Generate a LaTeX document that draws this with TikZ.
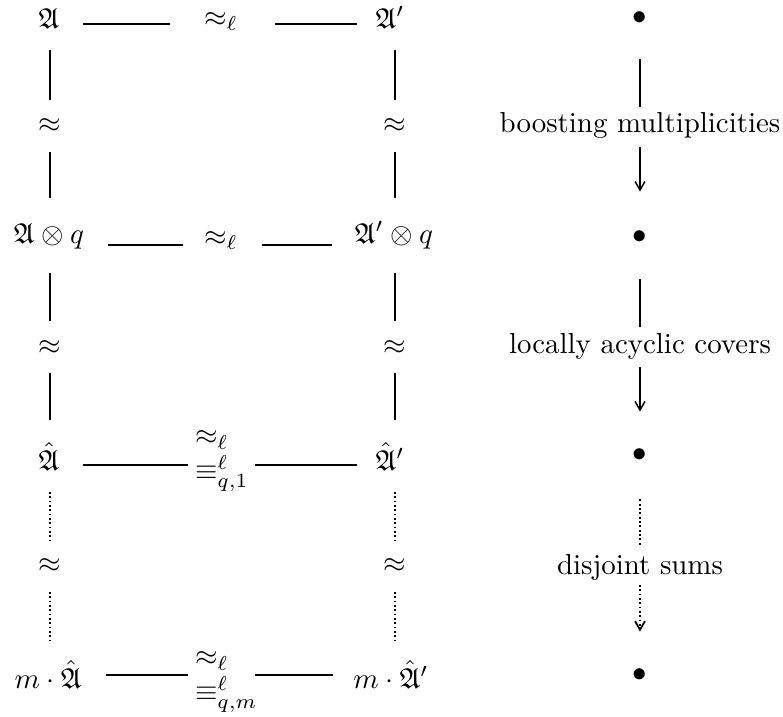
\documentclass[tikz,border=0pt]{standalone}
\usepackage{amsmath,amssymb}
\usetikzlibrary{arrows.meta}
\newcommand\pxu{0.346pt}
\begin{document}
\begin{tikzpicture}[x=0.346pt,y=-0.346pt,
  every node/.style={inner sep=0pt, outer sep=0pt, anchor=base},
  conn/.style={line width=0.5pt},
  dotconn/.style={line width=0.6pt, dash pattern=on 0.6pt off 0.9pt},
  tip/.style={-{Straight Barb[length=3pt,width=3.4pt]}},
  dotnode/.style={anchor=center},
]
\useasboundingbox (0,0) rectangle (783,716);
% row levels for horizontal connectors
\coordinate (h1) at (0,24);
\coordinate (h2) at (0,245);
\coordinate (h3) at (0,465);
\coordinate (h4) at (0,675);
% row 1
\node (A)  at (49,28)  {$\mathfrak{A}$};
\node (L1) at (221,26) {$\approx_\ell$};
\node (Ap) at (390,28) {$\mathfrak{A}'$};
\node[dotnode] (B1) at (640,18) {$\bullet$};
% row 2
\node (Aq)  at (49,243)  {$\mathfrak{A}\otimes q$};
\node (L2)  at (221,245) {$\approx_\ell$};
\node (Apq) at (394,243) {$\mathfrak{A}'\otimes q$};
\node[dotnode] (B2) at (640,237) {$\bullet$};
% row 3
\node (Ah)  at (49,470)  {$\hat{\mathfrak{A}}$};
\node[anchor=base west] (L3) at (195,463) {$\begin{array}{@{}l@{}}\approx_\ell\\ \equiv^\ell_{q,1}\end{array}$};
\node (Aph) at (390,470) {$\hat{\mathfrak{A}}'$};
\node[dotnode] (B3) at (640,455) {$\bullet$};
% row 4
\node (mAh)  at (48,688)  {$m\cdot\hat{\mathfrak{A}}$};
\node[anchor=base west] (L4) at (195,684) {$\begin{array}{@{}l@{}}\approx_\ell\\ \equiv^\ell_{q,m}\end{array}$};
\node (mAph) at (391,688) {$m\cdot\hat{\mathfrak{A}}'$};
\node[dotnode] (B4) at (640,675) {$\bullet$};
% vertical labels
\node (V1)  at (50,132)  {$\approx$};
\node (V1r) at (395,132) {$\approx$};
\node (V2)  at (50,354)  {$\approx$};
\node (V2r) at (395,354) {$\approx$};
\node (V3)  at (50,572)  {$\approx$};
\node (V3r) at (395,572) {$\approx$};
\node (T1) at (640,132) {boosting multiplicities};
\node (T2) at (640,353) {locally acyclic covers};
\node (T3) at (640,574) {disjoint sums};
% horizontal connectors
\draw[conn,shorten <=34*\pxu,shorten >=51*\pxu] (A.base |- h1) -- (L1.base |- h1);
\draw[conn,shorten <=54*\pxu,shorten >=33*\pxu] (L1.base |- h1) -- (Ap.base |- h1);
\draw[conn,shorten <=59*\pxu,shorten >=38*\pxu] (Aq.base |- h2) -- (L2.base |- h2);
\draw[conn,shorten <=41*\pxu,shorten >=62*\pxu] (L2.base |- h2) -- (Apq.base |- h2);
\draw[conn,shorten <=34*\pxu,shorten >=7*\pxu] (Ah.base |- h3) -- (L3.west |- h3);
\draw[conn,shorten <=60*\pxu,shorten >=33*\pxu] (L3.west |- h3) -- (Aph.base |- h3);
\draw[conn,shorten <=58*\pxu,shorten >=7*\pxu] (mAh.base |- h4) -- (L4.west |- h4);
\draw[conn,shorten <=60*\pxu,shorten >=58*\pxu] (L4.west |- h4) -- (mAph.base |- h4);
% left column
\draw[conn,shorten <=22*\pxu,shorten >=32*\pxu] (V1.base |- A.base) -- (V1.base);
\draw[conn,shorten <=20*\pxu,shorten >=45*\pxu] (V1.base) -- (V1.base |- Aq.base);
\draw[conn,shorten <=30*\pxu,shorten >=33*\pxu] (V2.base |- Aq.base) -- (V2.base);
\draw[conn,shorten <=19*\pxu,shorten >=50*\pxu] (V2.base) -- (V2.base |- Ah.base);
\draw[dotconn,shorten <=22*\pxu,shorten >=32*\pxu] (V3.base |- Ah.base) -- (V3.base);
\draw[dotconn,shorten <=20*\pxu,shorten >=48*\pxu] (V3.base) -- (V3.base |- mAh.base);
% right column
\draw[conn,shorten <=22*\pxu,shorten >=32*\pxu] (V1r.base |- Ap.base) -- (V1r.base);
\draw[conn,shorten <=20*\pxu,shorten >=45*\pxu] (V1r.base) -- (V1r.base |- Apq.base);
\draw[conn,shorten <=30*\pxu,shorten >=33*\pxu] (V2r.base |- Apq.base) -- (V2r.base);
\draw[conn,shorten <=19*\pxu,shorten >=50*\pxu] (V2r.base) -- (V2r.base |- Aph.base);
\draw[dotconn,shorten <=22*\pxu,shorten >=32*\pxu] (V3r.base |- Aph.base) -- (V3r.base);
\draw[dotconn,shorten <=20*\pxu,shorten >=48*\pxu] (V3r.base) -- (V3r.base |- mAph.base);
% bullet column
\draw[conn,shorten <=35*\pxu,shorten >=25*\pxu] (B1) -- (T1.base);
\draw[conn,tip,shorten <=15*\pxu,shorten >=39*\pxu] (T1.base) -- (B2);
\draw[conn,shorten <=36*\pxu,shorten >=26*\pxu] (B2) -- (T2.base);
\draw[conn,tip,shorten <=14*\pxu,shorten >=37*\pxu] (T2.base) -- (B3);
\draw[dotconn,shorten <=38*\pxu,shorten >=27*\pxu] (B3) -- (T3.base);
\draw[dotconn,tip,shorten <=11*\pxu,shorten >=37*\pxu] (T3.base) -- (B4);
\end{tikzpicture}
\end{document}
